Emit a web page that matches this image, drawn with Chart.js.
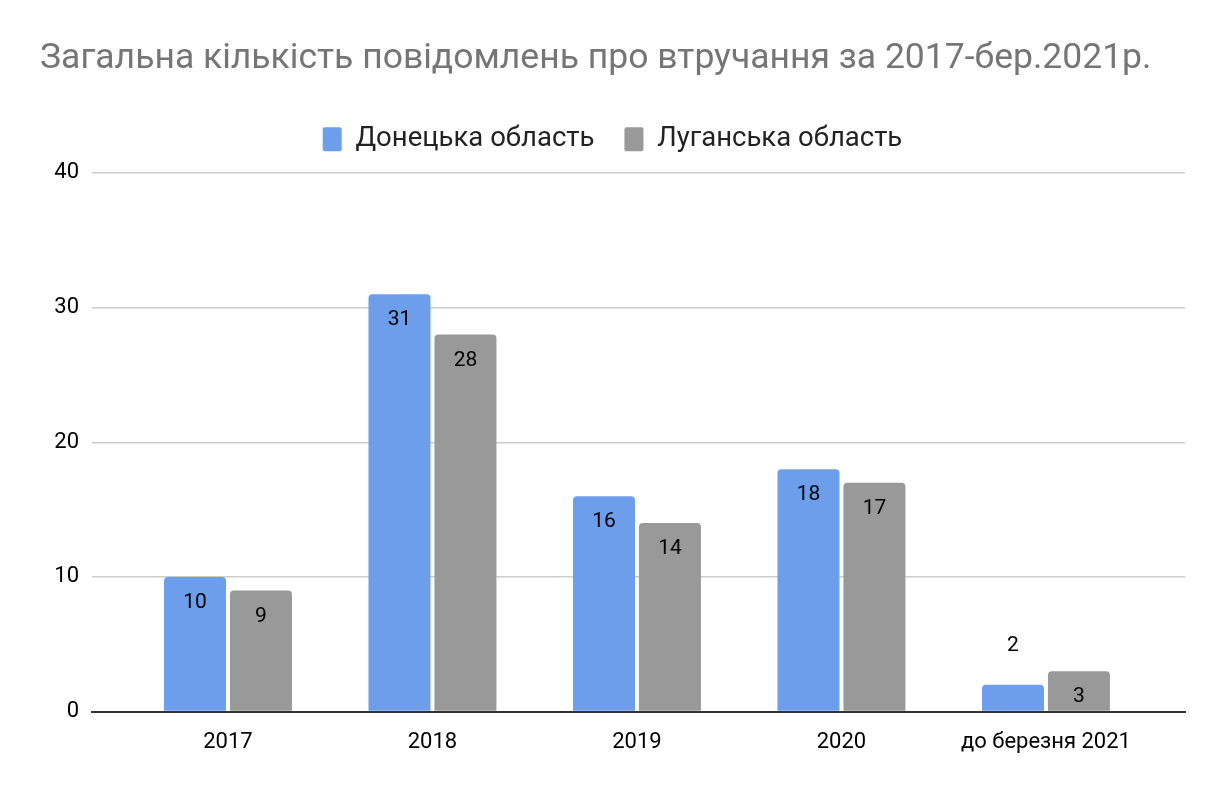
<!DOCTYPE html>
<html>
<head>
<meta charset="utf-8">
<script src="https://cdn.jsdelivr.net/npm/chart.js@4"></script>
<style>
  html, body { margin: 0; padding: 0; background: #fff; }
  #wrap { width: 1224px; height: 790px; }
</style>
</head>
<body>
<div id="wrap"><canvas id="myChart"></canvas></div>
<script>
const categories = ["2017", "2018", "2019", "2020", "до березня 2021"];
const donetsk = [10, 31, 16, 18, 2];
const luhansk = [9, 28, 14, 17, 3];
const seriesNames = ["Донецька область", "Луганська область"];
const yTicks = [0, 10, 20, 30, 40];

const FONT = "Roboto, 'Noto Sans', sans-serif";

// value labels: inside near the top of the bar, above it when the bar is short
const barLabels = {
  id: "barLabels",
  afterDatasetsDraw(chart) {
    const c = chart.ctx;
    c.save();
    c.font = "21px " + FONT;
    c.fillStyle = "#000";
    c.textAlign = "center";
    c.textBaseline = "middle";
    chart.data.datasets.forEach((ds, i) => {
      const meta = chart.getDatasetMeta(i);
      meta.data.forEach((bar, j) => {
        const h = bar.base - bar.y;
        const y = h >= 35 ? bar.y + 26 : bar.y - 39;
        c.fillText(String(ds.data[j].y), bar.x, y);
      });
    });
    c.restore();
  },
};

// empty box between legend and plot, for the extra gap
const legendGap = {
  id: "legendGap",
  beforeInit(chart) {
    Chart.layouts.addBox(chart, {
      position: "top",
      weight: 500,
      fullSize: true,
      options: {},
      left: 0, top: 0, right: 0, bottom: 0, width: 0, height: 0,
      isHorizontal: () => true,
      update(maxWidth) {
        this.width = maxWidth;
        this.height = 10;
      },
      getPadding: () => ({ left: 0, top: 0, right: 0, bottom: 0 }),
      draw() {},
    });
  },
};

// x is linear so the groups get the same side margins as the original
const toPoints = (arr) => arr.map((v, i) => ({ x: i, y: v }));

const ctx = document.getElementById("myChart").getContext("2d");
new Chart(ctx, {
  type: "bar",
  data: {
    datasets: [
      {
        label: seriesNames[0],
        data: toPoints(donetsk),
        backgroundColor: "#6d9eeb",
        borderRadius: 4,
        borderSkipped: "start",
      },
      {
        label: seriesNames[1],
        data: toPoints(luhansk),
        backgroundColor: "#999999",
        borderRadius: 4,
        borderSkipped: "start",
      },
    ],
  },
  options: {
    responsive: true,
    maintainAspectRatio: false,
    animation: false,
    categoryPercentage: 0.645,
    barPercentage: 0.94,
    layout: {
      padding: { left: 40, right: 39, top: 0, bottom: 24 },
    },
    plugins: {
      title: {
        display: true,
        text: "Загальна кількість повідомлень про втручання за 2017-бер.2021р.",
        align: "start",
        color: "#757575",
        font: { family: FONT, size: 35.5, weight: "normal" },
        padding: { top: 38, bottom: 14.85 },
      },
      legend: {
        position: "top",
        labels: {
          color: "#222",
          font: { family: FONT, size: 27.5 },
          boxWidth: 19,
          boxHeight: 24,
          useBorderRadius: true,
          borderRadius: 2,
          padding: 30,
        },
      },
      tooltip: { enabled: false },
    },
    scales: {
      x: {
        type: "linear",
        offset: false,
        min: -0.665,
        max: 4.68,
        afterBuildTicks(axis) {
          axis.ticks = categories.map((_, i) => ({ value: i }));
        },
        grid: { display: false },
        border: { color: "#333", width: 2 },
        ticks: {
          color: "#000",
          font: { family: FONT, size: 22 },
          padding: 10,
          maxRotation: 0,
          autoSkip: false,
          callback: (v) => categories[v],
        },
      },
      y: {
        min: 0,
        max: 40,
        afterBuildTicks(axis) {
          axis.ticks = yTicks.map((v) => ({ value: v }));
        },
        afterFit(axis) {
          axis.width = 52;
        },
        border: { display: false },
        grid: {
          color: "#cccccc",
          lineWidth: 1.5,
          drawTicks: false,
        },
        ticks: {
          color: "#000",
          font: { family: FONT, size: 22 },
          padding: 13,
        },
      },
    },
  },
  plugins: [barLabels, legendGap],
});
</script>
</body>
</html>
